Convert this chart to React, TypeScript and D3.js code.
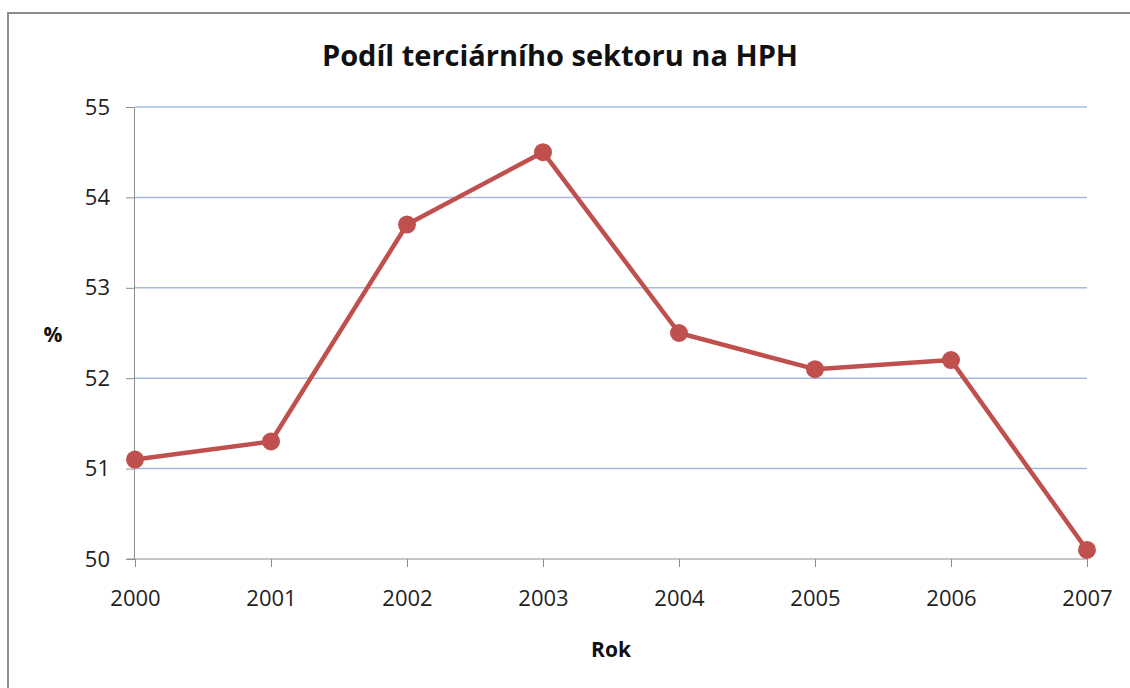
import React, { useEffect, useRef } from "react";
import * as d3 from "d3";

const years = ["2000", "2001", "2002", "2003", "2004", "2005", "2006", "2007"];
const shares = [51.1, 51.3, 53.7, 54.5, 52.5, 52.1, 52.2, 50.1];
const yTicks = [50, 51, 52, 53, 54, 55];

const title = "Podíl terciárního sektoru na HPH";
const xTitle = "Rok";
const yTitle = "%";

const width = 1130;
const height = 688;
const margins = { top: 107, right: 43, bottom: 129, left: 135 };
const font = "'Open Sans', 'Noto Sans', sans-serif";
const lineColor = "#C0504D";

const App: React.FC = () => {
    const svgRef = useRef<SVGSVGElement | null>(null);

    useEffect(() => {
        if (!svgRef.current) return;
        const svg = d3.select(svgRef.current);
        svg.selectAll("*").remove();

        const x = d3
            .scalePoint<string>()
            .domain(years)
            .range([margins.left, width - margins.right]);

        const y = d3
            .scaleLinear()
            .domain([50, 55])
            .range([height - margins.bottom, margins.top]);

        // chart frame
        svg.append("rect")
            .attr("x", 8)
            .attr("y", 13)
            .attr("width", width + 20)
            .attr("height", height + 20)
            .attr("fill", "white")
            .attr("stroke", "#8c8c8c")
            .attr("stroke-width", 2);

        // gridlines
        svg.append("g")
            .selectAll("line")
            .data(yTicks.filter((t) => t !== 50))
            .join("line")
            .attr("x1", margins.left)
            .attr("x2", width - margins.right)
            .attr("y1", (d) => y(d))
            .attr("y2", (d) => y(d))
            .attr("stroke", "#a3b9e4")
            .attr("stroke-width", 1.5);

        // y axis
        const yAxis = svg
            .append("g")
            .attr("transform", `translate(${margins.left - 1},0)`)
            .call(
                d3
                    .axisLeft(y)
                    .tickValues(yTicks)
                    .tickSize(8)
                    .tickPadding(16)
                    .tickFormat(d3.format("d"))
            );
        yAxis.selectAll("path, line").attr("stroke", "#8c8c8c");
        yAxis
            .selectAll("text")
            .attr("fill", "#222")
            .style("font-family", font)
            .style("font-size", "22px");

        // x axis
        const xAxis = svg
            .append("g")
            .attr("transform", `translate(0,${height - margins.bottom})`)
            .call(d3.axisBottom(x).tickSize(8).tickSizeOuter(0).tickPadding(23));
        xAxis.select(".domain").attr("d", `M${margins.left - 8},0H${width - margins.right}`);
        xAxis.selectAll("path, line").attr("stroke", "#8c8c8c");
        xAxis
            .selectAll("text")
            .attr("fill", "#222")
            .style("font-family", font)
            .style("font-size", "22px");

        // line
        const line = d3
            .line<number>()
            .x((_, i) => x(years[i]) as number)
            .y((d) => y(d));

        svg.append("path")
            .datum(shares)
            .attr("d", line)
            .attr("fill", "none")
            .attr("stroke", lineColor)
            .attr("stroke-width", 4.5)
            .attr("stroke-linejoin", "round");

        svg.append("g")
            .selectAll("circle")
            .data(shares)
            .join("circle")
            .attr("cx", (_, i) => x(years[i]) as number)
            .attr("cy", (d) => y(d))
            .attr("r", 9)
            .attr("fill", lineColor);

        // titles
        svg.append("text")
            .attr("x", 560)
            .attr("y", 66)
            .attr("text-anchor", "middle")
            .attr("font-family", font)
            .attr("font-weight", "bold")
            .attr("font-size", 29)
            .attr("fill", "#111")
            .text(title);

        svg.append("text")
            .attr("x", 611)
            .attr("y", 657)
            .attr("text-anchor", "middle")
            .attr("font-family", font)
            .attr("font-weight", "bold")
            .attr("font-size", 21)
            .attr("fill", "#111")
            .text(xTitle);

        svg.append("text")
            .attr("x", 53)
            .attr("y", 342)
            .attr("text-anchor", "middle")
            .attr("font-family", font)
            .attr("font-weight", "bold")
            .attr("font-size", 21)
            .attr("fill", "#111")
            .text(yTitle);
    }, []);

    return (
        <svg
            ref={svgRef}
            width={width}
            height={height}
            style={{ position: "absolute", left: 0, top: 0, background: "white" }}
        ></svg>
    );
};

export default App;
